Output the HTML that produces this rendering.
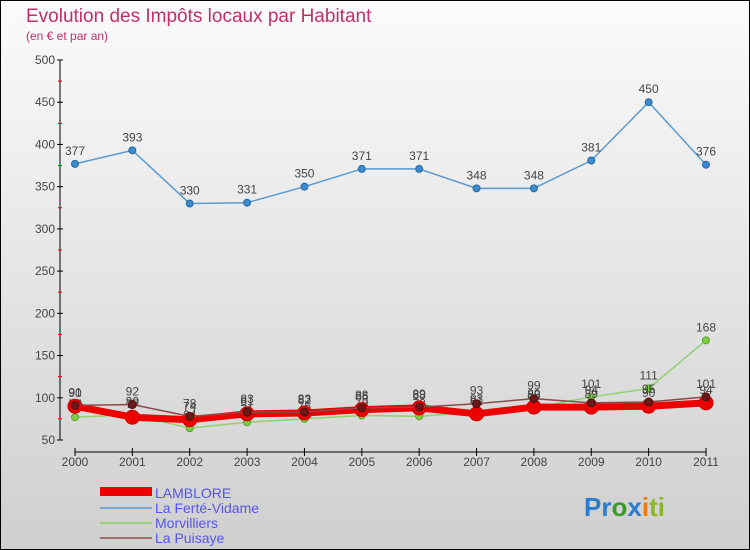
<!DOCTYPE html>
<html><head><meta charset="utf-8"><style>
body{margin:0;width:750px;height:550px;overflow:hidden;font-family:"Liberation Sans",sans-serif}
svg{display:block}
</style></head><body>
<svg id="chart" width="750" height="550" xmlns="http://www.w3.org/2000/svg">
<defs><linearGradient id="bg" x1="0" y1="0" x2="0" y2="1"><stop offset="0" stop-color="#fbfbfb"/><stop offset="1" stop-color="#cfcfcf"/></linearGradient></defs>
<rect x="0.5" y="0.5" width="749" height="549" fill="url(#bg)" stroke="#000"/>
<text x="26" y="22" font-size="19" fill="#c0306a">Evolution des Impôts locaux par Habitant</text>
<text x="26" y="40" font-size="12" fill="#c0306a">(en € et par an)</text>
<g id="axes"></g>
<g id="series"></g>
<g id="legend" font-size="14" fill="#5555ee">
<rect x="100" y="487" width="52" height="9" fill="#ee0000"/>
<text x="155" y="498">LAMBLORE</text>
<line x1="100" y1="508" x2="152" y2="508" stroke="#7aa8d0" stroke-width="2"/>
<text x="155" y="513">La Ferté-Vidame</text>
<line x1="100" y1="523" x2="152" y2="523" stroke="#9ad07a" stroke-width="2"/>
<text x="155" y="528">Morvilliers</text>
<line x1="100" y1="538" x2="152" y2="538" stroke="#9a6e6e" stroke-width="2"/>
<text x="155" y="543">La Puisaye</text>
</g>
<g font-size="26" font-weight="bold">
<text x="584" y="516"><tspan fill="#2a7ccc">Pr</tspan><tspan fill="#3a9a2a">o</tspan><tspan fill="#2a7ccc">x</tspan><tspan fill="#ee7a10">i</tspan><tspan fill="#8ab82a">ti</tspan></text>
</g>
</svg>
<script>
const years=["2000","2001","2002","2003","2004","2005","2006","2007","2008","2009","2010","2011"];
const yTicks=[50,100,150,200,250,300,350,400,450,500];
const lamblore=[90,77,74,81,82,86,88,81,89,89,90,94];
const ferte=[377,393,330,331,350,371,371,348,348,381,450,376];
const morvilliers=[77,80,64,71,75,79,78,83,88,101,111,168];
const puisaye=[91,92,78,83,83,88,89,93,99,94,95,101];
const NS="http://www.w3.org/2000/svg";
const x=i=>75+i*(706-75)/11;
const y=v=>440-(v-50)*380/450;
function mk(t,a,p){const e=document.createElementNS(NS,t);for(const k in a)e.setAttribute(k,a[k]);p.appendChild(e);return e;}
const ax=document.getElementById('axes');
let l=mk('line',{x1:60,y1:60,x2:60,y2:440,stroke:'#000'},ax);


l=mk('line',{x1:75,y1:452,x2:706,y2:452,stroke:'#000'},ax);


yTicks.forEach(v=>{
 mk('line',{x1:57,y1:y(v),x2:63,y2:y(v),stroke:'#000'},ax);
 const t=mk('text',{x:55,y:y(v)+4,'text-anchor':'end','font-size':12,fill:'#444'},ax);t.textContent=v;
 
 
 if(v<500)mk('line',{x1:58,y1:y(v+25),x2:62,y2:y(v+25),stroke:'#e00'},ax);
});
years.forEach((yr,i)=>{
 mk('line',{x1:x(i),y1:448,x2:x(i),y2:456,stroke:'#000'},ax);
 const t=mk('text',{x:x(i),y:466,'text-anchor':'middle','font-size':12,fill:'#444'},ax);t.textContent=yr;
 
 
});
const sg=document.getElementById('series');
function series(data,name,color,w,r,fill,stroke){
 const g=mk('g',{},sg);
 
 
 const p=mk('polyline',{points:data.map((v,i)=>x(i)+','+y(v)).join(' '),fill:'none',stroke:color,'stroke-width':w,'stroke-linejoin':'round'},g);
 
 
 data.forEach((v,i)=>{
  const c=mk('circle',{cx:x(i),cy:y(v),r:r,fill:fill,stroke:stroke,'stroke-width':1},g);
  
  
  const t=mk('text',{x:x(i),y:y(v)-9,'text-anchor':'middle','font-size':12,fill:'#444'},g);t.textContent=v;
  
  
 });
}
series(ferte,'la-ferte-vidame','#5a9ad0',1.5,3.5,'#3a8ad0','#2a6aa0');
series(morvilliers,'morvilliers','#90d070',1.5,3.5,'#7ad040','#5aa030');
series(lamblore,'lamblore','#ee0000',7,7,'#ee0000','#cc0000');
series(puisaye,'la-puisaye','#8a4a4a',1.5,4,'#6a1818','#501010');
</script>
</body></html>
